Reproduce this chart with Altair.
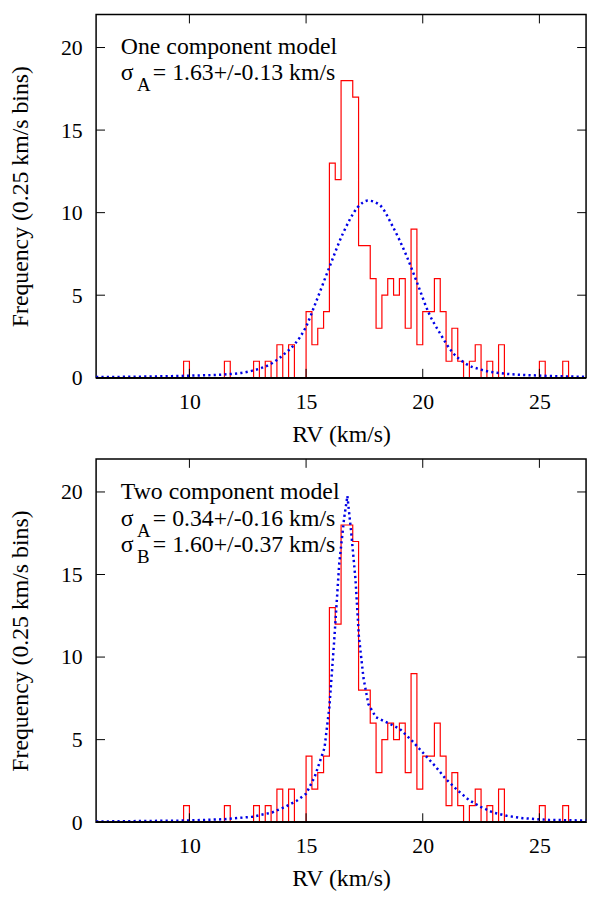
import altair as alt
import pandas as pd

# RV histogram, counts per 0.25 km/s bin, first bin starts at 9.75 km/s
bin_width = 0.25
first_edge = 9.75
counts = [1, 0, 0, 0, 0, 0, 0, 1, 0, 0, 0, 0, 1, 0, 1, 0, 2, 0, 2, 0, 0,
          4, 2, 3, 4, 13, 12, 18, 18, 17, 8, 8, 6, 3, 5, 6, 5, 6, 3, 9, 2,
          4, 4, 6, 4, 1, 3, 1, 0, 1, 2, 0, 1, 0, 2,
          0, 0, 0, 0, 0, 0, 1, 0, 0, 0, 1]

# one component model
one_x = [6.0, 9.8, 11.5, 12.7, 13.55, 14.1, 14.55, 15.0, 15.4, 16.0, 16.6, 17.2,
         17.65, 18.15, 18.7, 19.3, 19.8, 20.25, 20.75, 21.25, 21.8, 22.5, 23.45,
         24.85, 27.0]
one_y = [0.04, 0.12, 0.2, 0.43, 0.89, 1.48, 2.1, 3.1, 4.5, 6.7, 8.8, 10.3,
         10.73, 10.47, 9.2, 7.4, 5.6, 3.95, 2.67, 1.58, 0.89, 0.49, 0.26,
         0.14, 0.06]

# two component model
two_x = [6.0, 9.8, 11.5, 12.7, 13.55, 14.1, 14.6, 15.0, 15.37, 15.79, 16.0, 16.21,
         16.42, 16.63, 16.77, 16.93, 17.12, 17.26, 17.46, 17.67, 17.99, 18.58,
         19.0, 19.51, 20.02, 20.53, 21.0, 21.51, 22.0, 22.48, 23.0, 23.6, 24.3,
         25.4, 27.0]
two_y = [0.04, 0.1, 0.18, 0.33, 0.59, 0.93, 1.3, 1.72, 2.75, 4.5, 7.0, 11.1,
         15.65, 18.4, 19.76, 17.6, 14.66, 11.3, 8.73, 7.15, 6.36, 5.96,
         5.67, 4.98, 4.19, 3.4, 2.6, 1.91, 1.32, 0.93, 0.59, 0.39, 0.24,
         0.14, 0.1]

x_ticks = [10, 15, 20, 25]
y_ticks = [0, 5, 10, 15, 20]

W, H = 495, 367
FONT = 'Liberation Serif'

# outline of the histogram as a step line
last_edge = first_edge + bin_width * len(counts)
step_rv = [first_edge] + [first_edge + bin_width * i for i in range(len(counts))] + [last_edge]
step_n = [0] + counts + [0]
hist_df = pd.DataFrame({'rv': step_rv, 'n': step_n, 'i': range(len(step_n))})

xs = alt.Scale(domain=[6, 27], nice=False, zero=False)
ys = alt.Scale(domain=[0, 22], nice=False)


def text(s, x, y, size=24):
    return alt.Chart(pd.DataFrame({'t': [s]})).mark_text(
        align='left', baseline='alphabetic', font=FONT, fontSize=size, color='black'
    ).encode(x=alt.value(x), y=alt.value(y), text='t:N')


def panel(mx, my, interp, notes):
    hist = alt.Chart(hist_df).mark_line(
        color='#ff0000', strokeWidth=1.2, interpolate='step-after'
    ).encode(
        x=alt.X('rv:Q', scale=xs, axis=alt.Axis(values=x_ticks, title='RV (km/s)',
                                                 labelPadding=14, titlePadding=10)),
        y=alt.Y('n:Q', scale=ys, axis=alt.Axis(values=y_ticks, title='Frequency (0.25 km/s bins)',
                                                labelPadding=14, titlePadding=28)),
        order='i:Q'
    )
    model = alt.Chart(pd.DataFrame({'rv': mx, 'n': my})).mark_line(
        color='#0000e6', strokeWidth=2.5, strokeDash=[2.2, 3.2], interpolate=interp
    ).encode(
        x=alt.X('rv:Q', scale=xs),
        y=alt.Y('n:Q', scale=ys)
    )
    xt = pd.DataFrame({'rv': x_ticks})
    yt = pd.DataFrame({'n': y_ticks})
    # inward ticks on all four sides, and the black base line over the empty bins
    frame = [
        alt.Chart(xt).mark_rule(color='black', strokeWidth=1).encode(
            x=alt.X('rv:Q', scale=xs), y=alt.value(H), y2=alt.value(H - 9)),
        alt.Chart(xt).mark_rule(color='black', strokeWidth=1).encode(
            x=alt.X('rv:Q', scale=xs), y=alt.value(0), y2=alt.value(9)),
        alt.Chart(yt).mark_rule(color='black', strokeWidth=1).encode(
            y=alt.Y('n:Q', scale=ys), x=alt.value(0), x2=alt.value(9)),
        alt.Chart(yt).mark_rule(color='black', strokeWidth=1).encode(
            y=alt.Y('n:Q', scale=ys), x=alt.value(W), x2=alt.value(W - 9)),
        alt.Chart(xt).mark_rule(color='black', strokeWidth=1.5).encode(
            x=alt.value(0), x2=alt.value(W), y=alt.value(H)),
    ]
    return alt.layer(hist, model, *frame, *notes).properties(width=W, height=H)


top = panel(one_x, one_y, 'monotone', [
    text('One component model', 25, 39.5),
    text('σ', 25, 66),
    text('A', 41.3, 77, 19),
    text('= 1.63+/-0.13 km/s', 57.3, 66),
])

bottom = panel(two_x, two_y, 'linear', [
    text('Two component model', 25, 40),
    text('σ', 25, 67.5),
    text('A', 41.3, 78.5, 19),
    text('= 0.34+/-0.16 km/s', 57.3, 67.5),
    text('σ', 25, 94),
    text('B', 41.3, 105, 19),
    text('= 1.60+/-0.37 km/s', 57.3, 94),
])

chart = alt.vconcat(top, bottom, spacing=10).properties(
    padding=0
).configure_view(
    stroke='black', strokeWidth=1.5
).configure_axis(
    labelFont=FONT, labelFontSize=22, labelColor='black',
    titleFont=FONT, titleFontSize=24, titleFontWeight='normal', titleColor='black',
    grid=False, domain=False, ticks=False
)

chart.save("out.html", embed_options={"renderer": "svg", "actions": False})
